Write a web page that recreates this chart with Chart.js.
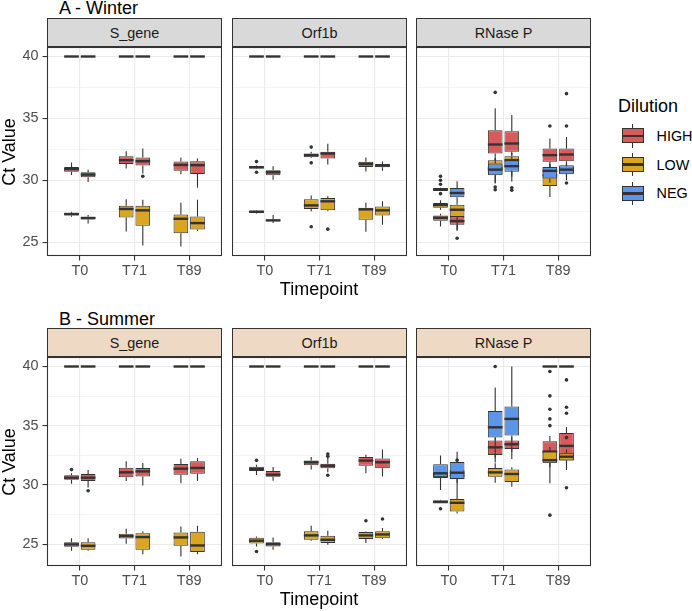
<!DOCTYPE html>
<html><head><meta charset="utf-8">
<script src="https://cdn.jsdelivr.net/npm/chart.js@4.4.1/dist/chart.umd.min.js"></script>
<style>
html,body{margin:0;padding:0;background:#fff;}
body{width:692px;height:611px;position:relative;overflow:hidden;font-family:"Liberation Sans",Arial,Helvetica,sans-serif;}
.abs{position:absolute;white-space:nowrap;}
canvas{position:absolute;}
.strip{position:absolute;box-sizing:border-box;border:1px solid #333;font-size:14.4px;color:#1a1a1a;display:flex;align-items:center;justify-content:center;}
</style></head><body>
<script>
// ---------------- data ----------------
const timepoints = ['T0', 'T71', 'T89'];
const dilutions = ['HIGH', 'LOW', 'NEG'];
const genes = ['S_gene', 'Orf1b', 'RNase P'];
const seasons = ['A - Winter', 'B - Summer'];
const replicates = ['a', 'b'];
const yMajorTicks = [25, 30, 35, 40];
const yMinorTicks = [27.5, 32.5, 37.5];

// box statistics: [lower whisker, Q1, median, Q3, upper whisker]
// order of boxes: T0a, T0b, T71a, T71b, T89a, T89b
const neg40 = [[40,40,40,40,40],[40,40,40,40,40],[40,40,40,40,40],[40,40,40,40,40],[40,40,40,40,40],[40,40,40,40,40]];
const noOutliers = [[],[],[],[],[],[]];

// Winter - S_gene
const winterSgeneHIGH = [[30.43,30.68,30.90,31.08,31.43],[29.86,30.24,30.46,30.65,30.86],[30.95,31.32,31.62,31.95,32.35],[30.54,31.19,31.54,31.84,32.57],[30.49,30.76,31.24,31.51,31.84],[29.40,30.51,31.22,31.54,31.76]];
const winterSgeneHIGHOut = [[],[],[],[30.32],[],[]];
const winterSgeneLOW = [[27.05,27.16,27.27,27.38,27.46],[26.50,26.84,26.95,27.05,27.20],[25.86,27.00,27.68,27.95,28.46],[24.73,26.32,27.57,27.95,28.43],[24.65,25.73,26.89,27.24,28.19],[25.90,26.03,26.54,27.08,28.43]];
const winterSgeneLOWOut = [[],[],[],[],[],[]];
// Winter - Orf1b
const winterOrfHIGH = [[30.92,30.95,31.05,31.16,31.20],[30.05,30.41,30.65,30.81,31.14],[31.80,31.86,32.03,32.16,32.30],[31.27,31.76,32.16,32.30,32.95],[30.70,31.08,31.32,31.49,31.84],[30.76,31.05,31.19,31.32,31.51]];
const winterOrfHIGHOut = [[31.51,30.65],[],[32.68,31.41],[],[],[]];
const winterOrfLOW = [[27.32,27.35,27.46,27.54,27.57],[26.54,26.68,26.76,26.84,27.19],[27.49,27.68,27.97,28.46,28.78],[27.50,27.57,28.30,28.57,28.70],[25.84,26.81,27.65,27.78,28.19],[26.40,27.16,27.57,27.89,28.30]];
const winterOrfLOWOut = [[],[],[26.24],[26.05],[],[]];
// Winter - RNase P
const winterRnpHIGH = [[26.27,26.73,26.97,27.16,27.30],[25.95,26.40,26.70,27.08,27.16],[31.62,32.16,32.89,34.05,35.81],[32.03,32.30,32.97,33.97,35.27],[31.08,31.49,32.03,32.57,33.38],[31.08,31.54,32.08,32.57,33.50]];
const winterRnpHIGHOut = [[],[],[37.1],[],[34.38],[34.38,37.0]];
const winterRnpLOW = [[27.62,27.78,28.00,28.16,28.38],[25.95,27.03,27.62,28.03,28.10],[29.73,30.49,31.00,31.62,31.80],[29.90,31.03,31.62,31.95,32.20],[28.65,29.54,30.40,31.08,31.35],[30.20,30.54,30.81,31.08,31.30]];
const winterRnpLOWOut = [[],[25.32],[],[],[],[]];
const winterRnpNEG = [[29.14,29.14,29.27,29.38,29.40],[28.10,28.62,28.97,29.38,29.92],[29.80,30.40,30.86,31.35,31.70],[30.30,30.68,31.14,31.62,31.90],[29.80,30.14,30.76,31.08,31.30],[30.00,30.49,30.86,31.22,31.40]];
const winterRnpNEGOut = [[30.32,30.0,29.68,28.92],[],[29.46,29.24],[29.4,29.2],[],[29.78]];

// Summer - S_gene
const summerSgeneHIGH = [[30.10,30.45,30.62,30.82,31.00],[29.80,30.34,30.62,30.93,31.27],[30.34,30.65,31.07,31.46,32.00],[29.97,30.73,31.15,31.44,31.86],[30.14,30.87,31.38,31.77,32.22],[30.34,30.96,31.44,32.00,32.28]];
const summerSgeneHIGHOut = [[31.3],[29.52],[],[],[],[]];
const summerSgeneLOW = [[24.45,24.79,24.99,25.18,25.52],[24.45,24.54,24.87,25.18,25.52],[25.04,25.49,25.69,25.89,26.31],[24.17,24.54,25.61,25.94,26.08],[23.97,24.87,25.58,26.00,26.50],[24.17,24.34,24.90,26.06,26.56]];
const summerSgeneLOWOut = [[],[],[],[],[],[]];
// Summer - Orf1b
const summerOrfHIGH = [[30.85,31.18,31.35,31.55,31.72],[30.37,30.70,30.87,31.18,31.52],[31.30,31.66,31.92,32.06,32.37],[31.07,31.41,31.63,31.80,32.30],[31.00,31.63,32.06,32.37,32.56],[30.73,31.41,31.92,32.23,32.99]];
const summerOrfHIGHOut = [[32.08],[],[],[32.62,32.42,30.82],[],[]];
const summerOrfLOW = [[24.82,25.07,25.30,25.55,25.66],[24.54,24.82,25.01,25.18,25.58],[25.30,25.38,25.75,26.11,26.56],[24.96,25.10,25.38,25.72,26.14],[25.10,25.44,25.75,26.03,26.08],[25.44,25.52,25.83,26.11,26.37]];
const summerOrfLOWOut = [[24.39],[],[],[],[26.99],[27.13]];
// Summer - RNase P
const summerRnpHIGH = [[30.50,30.60,30.80,30.95,31.10],[30.20,30.48,30.79,31.27,31.60],[32.30,32.54,33.18,33.75,34.00],[32.80,33.04,33.44,33.75,34.00],[30.14,31.89,32.82,33.69,34.14],[31.27,32.06,33.30,34.39,34.90]];
const summerRnpHIGHOut = [[],[32.1],[],[],[35.01,35.58,36.39,37.52,39.58,27.46],[36.06,36.56,38.87,29.77]];
const summerRnpLOW = [[28.45,28.45,28.59,28.70,28.75],[27.60,27.77,28.50,28.82,29.15],[30.20,30.70,31.07,31.44,31.83],[29.86,30.25,30.93,31.32,31.50],[31.50,31.89,32.10,32.82,33.20],[31.80,32.06,32.39,32.68,33.00]];
const summerRnpLOWOut = [[28.0],[],[],[],[],[34.0]];
const summerRnpNEG = [[29.58,30.65,30.99,31.75,32.50],[29.15,30.51,31.04,31.94,32.80],[31.90,34.00,34.87,36.25,38.23],[32.20,34.17,35.58,36.62,40.00],[40,40,40,40,40],[40,40,40,40,40]];
const summerRnpNEGOut = [[],[],[40.0],[],[],[]];

// table used by the charts, built from the arrays above
const seriesTable = {
  'A - Winter': {
    'S_gene':  {HIGH: [winterSgeneHIGH, winterSgeneHIGHOut], LOW: [winterSgeneLOW, winterSgeneLOWOut], NEG: [neg40, noOutliers]},
    'Orf1b':   {HIGH: [winterOrfHIGH, winterOrfHIGHOut], LOW: [winterOrfLOW, winterOrfLOWOut], NEG: [neg40, noOutliers]},
    'RNase P': {HIGH: [winterRnpHIGH, winterRnpHIGHOut], LOW: [winterRnpLOW, winterRnpLOWOut], NEG: [winterRnpNEG, winterRnpNEGOut]}
  },
  'B - Summer': {
    'S_gene':  {HIGH: [summerSgeneHIGH, summerSgeneHIGHOut], LOW: [summerSgeneLOW, summerSgeneLOWOut], NEG: [neg40, noOutliers]},
    'Orf1b':   {HIGH: [summerOrfHIGH, summerOrfHIGHOut], LOW: [summerOrfLOW, summerOrfLOWOut], NEG: [neg40, noOutliers]},
    'RNase P': {HIGH: [summerRnpHIGH, summerRnpHIGHOut], LOW: [summerRnpLOW, summerRnpLOWOut], NEG: [summerRnpNEG, summerRnpNEGOut]}
  }
};

// ---------------- style / layout ----------------
const FONT = '"Liberation Sans", Arial, Helvetica, sans-serif';
const fillColors = {HIGH: '#D75B5B', LOW: '#DAA520', NEG: '#5D95E8'};
const stripFills = ['#D9D9D9', '#EED9C5'];
const L = {panelLefts: [47, 232, 416], panelW: 175, panelTops: [47, 357], panelH: 209,
           stripTops: [18, 328], stripH: 29, xAxisH: 40};
const INK = '#333333';

Chart.defaults.font.family = FONT;

function addDiv(html, css, cls) {
  const d = document.createElement('div');
  d.className = cls || 'abs';
  d.style.cssText = css;
  d.textContent = html;
  document.body.appendChild(d);
  return d;
}

const boxPlugin = {
  id: 'boxWhiskers',
  beforeDatasetDraw(chart, args) {
    const ds = chart.data.datasets[args.index];
    const ys = chart.scales.y, ctx = chart.ctx;
    ctx.save();
    ctx.strokeStyle = INK; ctx.lineWidth = 1.1;
    args.meta.data.forEach((el, j) => {
      const s = ds.box[j];
      ctx.beginPath();
      ctx.moveTo(el.x, ys.getPixelForValue(s[0])); ctx.lineTo(el.x, ys.getPixelForValue(s[1]));
      ctx.moveTo(el.x, ys.getPixelForValue(s[3])); ctx.lineTo(el.x, ys.getPixelForValue(s[4]));
      ctx.stroke();
    });
    ctx.restore();
  },
  afterDatasetDraw(chart, args) {
    const ds = chart.data.datasets[args.index];
    const ys = chart.scales.y, ctx = chart.ctx;
    ctx.save();
    args.meta.data.forEach((el, j) => {
      const s = ds.box[j];
      const my = ys.getPixelForValue(s[2]);
      ctx.strokeStyle = INK; ctx.lineWidth = 2.4;
      ctx.beginPath();
      ctx.moveTo(el.x - el.width / 2, my); ctx.lineTo(el.x + el.width / 2, my);
      ctx.stroke();
      ctx.fillStyle = INK;
      ds.outliers[j].forEach(v => {
        ctx.beginPath();
        ctx.arc(el.x, ys.getPixelForValue(v), 1.8, 0, Math.PI * 2);
        ctx.fill();
      });
    });
    ctx.restore();
  },
  afterDraw(chart) {
    const a = chart.chartArea, ctx = chart.ctx;
    ctx.save();
    ctx.strokeStyle = INK; ctx.lineWidth = 1.1;
    ctx.strokeRect(a.left + 0.5, a.top + 0.5, a.right - a.left - 1, a.bottom - a.top - 1);
    ctx.restore();
  }
};

function rowRange(season) {
  let lo = Infinity, hi = -Infinity;
  genes.forEach(g => dilutions.forEach(d => {
    const [stats, outs] = seriesTable[season][g][d];
    stats.forEach(s => s.forEach(v => { lo = Math.min(lo, v); hi = Math.max(hi, v); }));
    outs.forEach(o => o.forEach(v => { lo = Math.min(lo, v); hi = Math.max(hi, v); }));
  }));
  const pad = (hi - lo) * 0.05;
  return [lo - pad, hi + pad];
}

const allYTicks = [...yMajorTicks, ...yMinorTicks].sort((a, b) => a - b);
const isMajor = v => yMajorTicks.includes(v);

function buildChart(row, g) {
  const season = seasons[row], gene = genes[g];
  const [ymin, ymax] = rowRange(season);
  const yW = g === 0 ? L.panelLefts[0] : 0;
  const cw = L.panelW + yW, ch = L.panelH + L.xAxisH;
  const cv = document.createElement('canvas');
  cv.width = cw; cv.height = ch;
  cv.style.cssText = `left:${L.panelLefts[g] - yW}px;top:${L.panelTops[row]}px;width:${cw}px;height:${ch}px;`;
  document.body.appendChild(cv);

  const datasets = [];
  dilutions.forEach((dil, di) => {
    const [stats, outs] = seriesTable[season][gene][dil];
    replicates.forEach((rep, ri) => {
      const idx = timepoints.map((_, ti) => ti * 2 + ri);
      datasets.push({
        label: dil, stack: rep, order: dilutions.length - di,
        data: timepoints.map((_, ti) => ({x: ti, y: [stats[ti * 2 + ri][1], stats[ti * 2 + ri][3]]})),
        box: idx.map(k => stats[k]),
        outliers: idx.map(k => outs[k]),
        backgroundColor: fillColors[dil], borderColor: INK, borderWidth: 1, borderSkipped: false,
        categoryPercentage: 0.607, barPercentage: 0.885, inflateAmount: 0
      });
    });
  });

  new Chart(cv, {
    type: 'bar',
    data: {datasets},
    plugins: [boxPlugin],
    options: {
      responsive: false, animation: false, events: [],
      layout: {padding: 0},
      plugins: {legend: {display: false}, tooltip: {enabled: false}, title: {display: false}},
      scales: {
        x: {
          type: 'linear', min: -0.6, max: 2.6, offset: false, bounds: 'data',
          grid: {offset: false, color: '#EBEBEB', lineWidth: 1.1, drawTicks: true,
                 tickColor: INK, tickWidth: 1.1, tickLength: 4.5},
          border: {display: false},
          ticks: {padding: 2, color: '#4D4D4D', font: {size: 14.4}, maxRotation: 0, autoSkip: false,
                  callback: v => timepoints[v] !== undefined ? timepoints[v] : ''},
          afterBuildTicks: s => { s.ticks = timepoints.map((_, i) => ({value: i})); },
          afterFit: s => { s.height = L.xAxisH; s.paddingLeft = 0; s.paddingRight = 0; }
        },
        y: {
          type: 'linear', min: ymin, max: ymax, stacked: false, beginAtZero: false, bounds: 'data',
          grid: {color: '#EBEBEB', lineWidth: c => (c.tick && isMajor(c.tick.value)) ? 1.1 : 0.55,
                 drawTicks: g === 0, tickLength: 4.5, tickWidth: 1.1,
                 tickColor: c => (c.tick && isMajor(c.tick.value)) ? INK : 'rgba(0,0,0,0)'},
          border: {display: false},
          ticks: {display: g === 0, padding: 4, color: '#4D4D4D', font: {size: 14.4},
                  callback: v => isMajor(v) ? String(v) : ''},
          afterBuildTicks: s => { s.ticks = allYTicks.map(v => ({value: v})); },
          afterFit: s => { s.width = yW; s.paddingTop = 0; s.paddingBottom = 0; }
        }
      }
    }
  });
}

// ---------------- build page ----------------
seasons.forEach((season, row) => {
  genes.forEach((gene, g) => {
    const s = addDiv(gene, `left:${L.panelLefts[g]}px;top:${L.stripTops[row]}px;width:${L.panelW}px;height:${L.stripH}px;background:${stripFills[row]};`, 'strip');
    buildChart(row, g);
  });
});

// titles
addDiv(seasons[0], 'left:59px;top:-1.5px;font-size:18px;line-height:18px;color:#000;');
addDiv(seasons[1], 'left:59px;top:309.5px;font-size:18px;line-height:18px;color:#000;');
// x titles
addDiv('Timepoint', 'left:219px;width:200px;text-align:center;top:279.5px;font-size:18px;line-height:18px;color:#000;');
addDiv('Timepoint', 'left:219px;width:200px;text-align:center;top:589.5px;font-size:18px;line-height:18px;color:#000;');
// y titles
[151.5, 461.5].forEach(cy => {
  addDiv('Ct Value', `left:${8.75 - 50}px;top:${cy - 10}px;width:100px;height:20px;line-height:20px;text-align:center;font-size:18px;color:#000;transform:rotate(-90deg);`);
});
// legend
addDiv('Dilution', 'left:618px;top:96.5px;font-size:18px;line-height:18px;color:#000;');
dilutions.forEach((d, i) => {
  const cy = 135.8 + i * 28.8;
  addDiv('', `left:632px;top:${cy - 11.8}px;width:1.1px;height:23.6px;background:${INK};`);
  addDiv('', `left:621.5px;top:${cy - 7.5}px;width:22px;height:15px;box-sizing:border-box;border:1px solid ${INK};background:${fillColors[d]};`);
  addDiv('', `left:621.5px;top:${cy - 1.2}px;width:22px;height:2.4px;background:${INK};`);
  addDiv(d, `left:656.5px;top:${cy - 9}px;font-size:14.4px;line-height:18px;color:#000;`);
});
</script>
</body></html>
